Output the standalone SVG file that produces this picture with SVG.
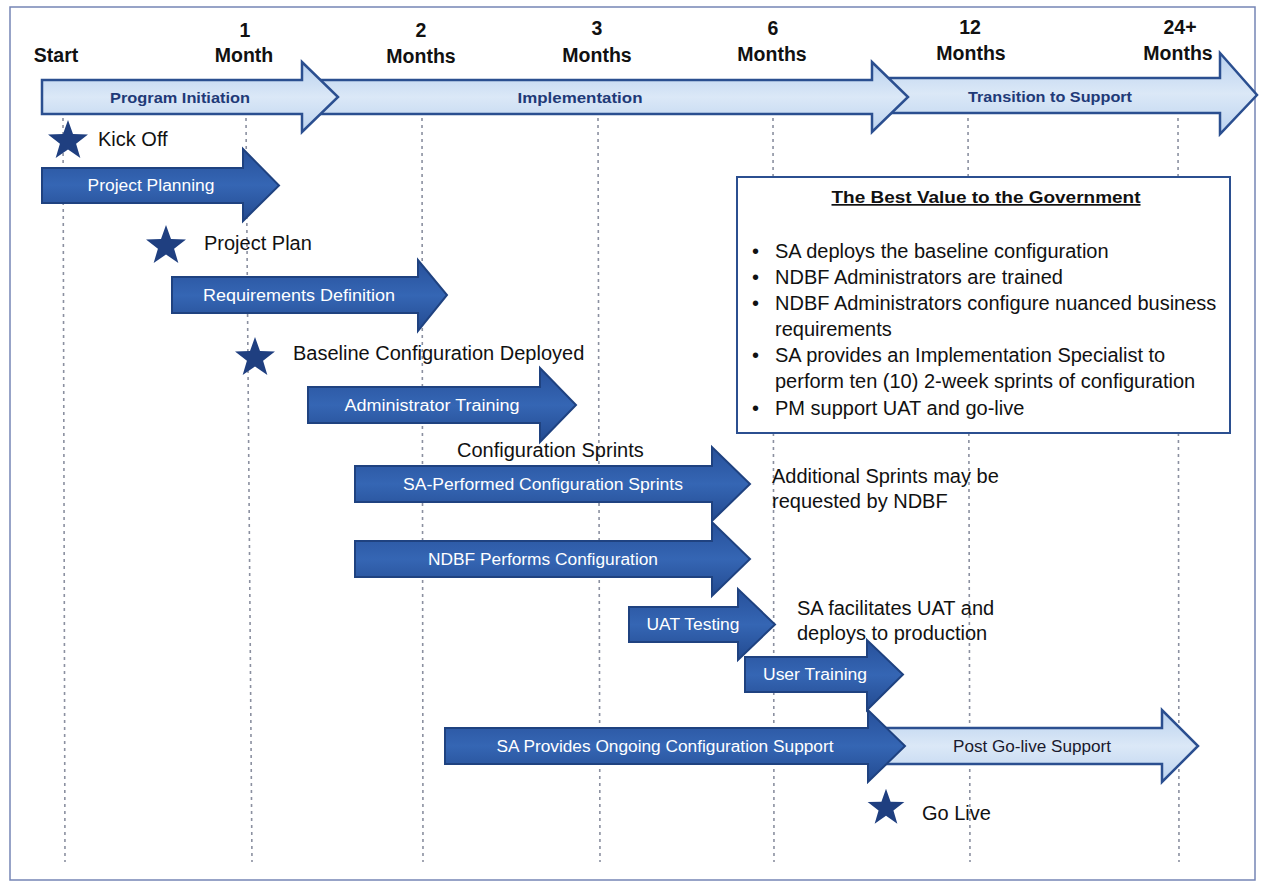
<svg xmlns="http://www.w3.org/2000/svg" xmlns:xlink="http://www.w3.org/1999/xlink" width="1262" height="886" viewBox="0 0 1262 886">
  <defs>
    <linearGradient id="darkFill" x1="0" y1="0" x2="0" y2="1">
      <stop offset="0" stop-color="#27509a"/>
      <stop offset="0.5" stop-color="#3566b4"/>
      <stop offset="1" stop-color="#234a90"/>
    </linearGradient>
    <linearGradient id="lightFill" x1="0" y1="0" x2="0" y2="1">
      <stop offset="0" stop-color="#b9d1ee"/>
      <stop offset="0.5" stop-color="#dbe8f7"/>
      <stop offset="1" stop-color="#bcd3ef"/>
    </linearGradient>
    <path id="star" d="M0,-21 L5,-6.88 L19.97,-6.49 L8.08,2.63 L12.34,16.99 L0,8.5 L-12.34,16.99 L-8.08,2.63 L-19.97,-6.49 L-5,-6.88 Z"/>
    <style>
      .frame { fill: #ffffff; stroke: #7585b5; stroke-width: 1.5; }
      .grid line { stroke: #8b90a0; stroke-width: 1.6; stroke-dasharray: 3 4; }
      .band { fill: url(#lightFill); stroke: #2b4f90; stroke-width: 2.5; stroke-linejoin: miter; }
      .task { fill: url(#darkFill); stroke: #1f4280; stroke-width: 2; stroke-linejoin: miter; }
      .light { fill: url(#lightFill); stroke: #2b4f90; stroke-width: 2.5; }
      .star { fill: #1f3f80; }
      .hdr { font-family: "Liberation Sans", Arial, sans-serif; font-weight: bold; font-size: 19.5px; fill: #111111; text-anchor: middle; }
      .bandtxt { font-family: "Liberation Sans", Arial, sans-serif; font-weight: bold; font-size: 15px; fill: #1f3a78; text-anchor: middle; }
      .tasktxt { font-family: "Liberation Sans", Arial, sans-serif; font-size: 16px; fill: #ffffff; text-anchor: middle; }
      .darktxt { font-family: "Liberation Sans", Arial, sans-serif; font-size: 16px; fill: #1a1a2e; text-anchor: middle; }
      .label { font-family: "Liberation Sans", Arial, sans-serif; font-size: 20px; fill: #111111; }
      .boxrect { fill: #ffffff; stroke: #2b4f90; stroke-width: 2; }
      .boxtitle { font-family: "Liberation Sans", Arial, sans-serif; font-weight: bold; font-size: 17px; fill: #111111; text-anchor: middle; text-decoration: underline; }
      .bullet { font-family: "Liberation Sans", Arial, sans-serif; font-size: 20px; fill: #111111; }
    </style>
  </defs>

  <!-- page frame -->
  <rect class="frame" x="10" y="7" width="1245" height="873"/>

  <!-- dotted month guide lines -->
  <g id="connectors" class="grid">
    <line x1="63" y1="118" x2="65" y2="862"/>
    <line x1="246" y1="118" x2="252" y2="862"/>
    <line x1="422" y1="118" x2="423" y2="862"/>
    <line x1="598" y1="118" x2="600" y2="862"/>
    <line x1="773" y1="118" x2="774" y2="862"/>
    <line x1="968" y1="118" x2="970" y2="862"/>
    <line x1="1178" y1="118" x2="1179" y2="862"/>
  </g>

  <!-- timeline header -->
  <g id="header">
    <text class="hdr" x="56" y="62">Start</text>
    <text class="hdr" x="245" y="37">1</text>
    <text class="hdr" x="244" y="62">Month</text>
    <text class="hdr" x="421" y="37">2</text>
    <text class="hdr" x="421" y="63">Months</text>
    <text class="hdr" x="597" y="35">3</text>
    <text class="hdr" x="597" y="62">Months</text>
    <text class="hdr" x="773" y="35">6</text>
    <text class="hdr" x="772" y="61">Months</text>
    <text class="hdr" x="970" y="34">12</text>
    <text class="hdr" x="971" y="60">Months</text>
    <text class="hdr" x="1180" y="34">24+</text>
    <text class="hdr" x="1178" y="60">Months</text>
  </g>

  <!-- phase band (drawn right to left so each head overlaps the next body) -->
  <g id="phase-transition">
    <path class="band" d="M890,78 L1220,78 L1220,53 L1257,95 L1220,134 L1220,113 L890,113 Z"/>
    <text class="bandtxt" x="1050" y="102" textLength="164" lengthAdjust="spacingAndGlyphs">Transition to Support</text>
  </g>
  <g id="phase-implementation">
    <path class="band" d="M320,80 L872,80 L872,62 L908,97 L872,132 L872,114 L320,114 Z"/>
    <text class="bandtxt" x="580" y="103" textLength="125" lengthAdjust="spacingAndGlyphs">Implementation</text>
  </g>
  <g id="phase-initiation">
    <path class="band" d="M42,80 L302,80 L302,62 L338,97 L302,132 L302,114 L42,114 Z"/>
    <text class="bandtxt" x="180" y="103" textLength="140" lengthAdjust="spacingAndGlyphs">Program Initiation</text>
  </g>

  <!-- milestones and activities -->
  <g id="kickoff">
    <use href="#star" class="star" x="68" y="141"/>
    <text class="label" x="98" y="146">Kick Off</text>
  </g>

  <g id="project-planning">
    <path class="task" d="M42,168 L243,168 L243,149 L279,185.5 L243,221 L243,203 L42,203 Z"/>
    <text class="tasktxt" x="151" y="191" textLength="127" lengthAdjust="spacingAndGlyphs">Project Planning</text>
  </g>

  <g id="project-plan">
    <use href="#star" class="star" x="166" y="246"/>
    <text class="label" x="204" y="250">Project Plan</text>
  </g>

  <g id="requirements-definition">
    <path class="task" d="M172,277 L418,277 L418,260 L447,295 L418,331 L418,313 L172,313 Z"/>
    <text class="tasktxt" x="299" y="301" textLength="192" lengthAdjust="spacingAndGlyphs">Requirements Definition</text>
  </g>

  <g id="baseline-deployed">
    <use href="#star" class="star" x="255" y="358"/>
    <text class="label" x="293" y="360">Baseline Configuration Deployed</text>
  </g>

  <g id="administrator-training">
    <path class="task" d="M308,387 L540,387 L540,368 L576,405 L540,442 L540,423 L308,423 Z"/>
    <text class="tasktxt" x="432" y="411" textLength="175" lengthAdjust="spacingAndGlyphs">Administrator Training</text>
  </g>

  <g id="configuration-sprints-label">
    <text class="label" x="457" y="457">Configuration Sprints</text>
  </g>

  <g id="sa-sprints">
    <path class="task" d="M355,466 L712,466 L712,447 L750,484 L712,521 L712,502 L355,502 Z"/>
    <text class="tasktxt" x="543" y="490" textLength="280" lengthAdjust="spacingAndGlyphs">SA-Performed Configuration Sprints</text>
  </g>

  <g id="additional-sprints">
    <text class="label" x="772" y="483">Additional Sprints may be</text>
    <text class="label" x="772" y="508">requested by NDBF</text>
  </g>

  <g id="ndbf-configuration">
    <path class="task" d="M355,541 L712,541 L712,522 L750,559 L712,596 L712,577 L355,577 Z"/>
    <text class="tasktxt" x="543" y="565" textLength="230" lengthAdjust="spacingAndGlyphs">NDBF Performs Configuration</text>
  </g>

  <g id="uat-testing">
    <path class="task" d="M629,607 L738,607 L738,589 L775,624.5 L738,660 L738,642 L629,642 Z"/>
    <text class="tasktxt" x="693" y="630" textLength="93" lengthAdjust="spacingAndGlyphs">UAT Testing</text>
  </g>

  <g id="uat-note">
    <text class="label" x="797" y="615">SA facilitates UAT and</text>
    <text class="label" x="797" y="640">deploys to production</text>
  </g>

  <g id="user-training">
    <path class="task" d="M745,657 L867,657 L867,640 L903,674.5 L867,710 L867,692 L745,692 Z"/>
    <text class="tasktxt" x="815" y="680" textLength="104" lengthAdjust="spacingAndGlyphs">User Training</text>
  </g>

  <g id="post-go-live-support">
    <path class="light" d="M880,728 L1162,728 L1162,710 L1198,746 L1162,782 L1162,764 L880,764 Z"/>
    <text class="darktxt" x="1032" y="752" textLength="158" lengthAdjust="spacingAndGlyphs">Post Go-live Support</text>
  </g>

  <g id="ongoing-support">
    <path class="task" d="M445,728 L868,728 L868,710 L905,746 L868,782 L868,764 L445,764 Z"/>
    <text class="tasktxt" x="665" y="752" textLength="337" lengthAdjust="spacingAndGlyphs">SA Provides Ongoing Configuration Support</text>
  </g>

  <g id="go-live">
    <use href="#star" class="star" x="886" y="808" transform="translate(886 808) scale(0.92) translate(-886 -808)"/>
    <text class="label" x="922" y="820">Go Live</text>
  </g>

  <!-- value summary box -->
  <g id="best-value">
    <rect class="boxrect" x="737" y="177" width="493" height="256"/>
    <text class="boxtitle" x="986" y="203" textLength="309" lengthAdjust="spacingAndGlyphs">The Best Value to the Government</text>
    <g class="bullet">
      <text x="752" y="258">•</text>
      <text x="775" y="258">SA deploys the baseline configuration</text>
      <text x="752" y="284">•</text>
      <text x="775" y="284">NDBF Administrators are trained</text>
      <text x="752" y="310">•</text>
      <text x="775" y="310">NDBF Administrators configure nuanced business</text>
      <text x="775" y="336">requirements</text>
      <text x="752" y="362">•</text>
      <text x="775" y="362">SA provides an Implementation Specialist to</text>
      <text x="775" y="388">perform ten (10) 2-week sprints of configuration</text>
      <text x="752" y="415">•</text>
      <text x="775" y="415">PM support UAT and go-live</text>
    </g>
  </g>
</svg>
